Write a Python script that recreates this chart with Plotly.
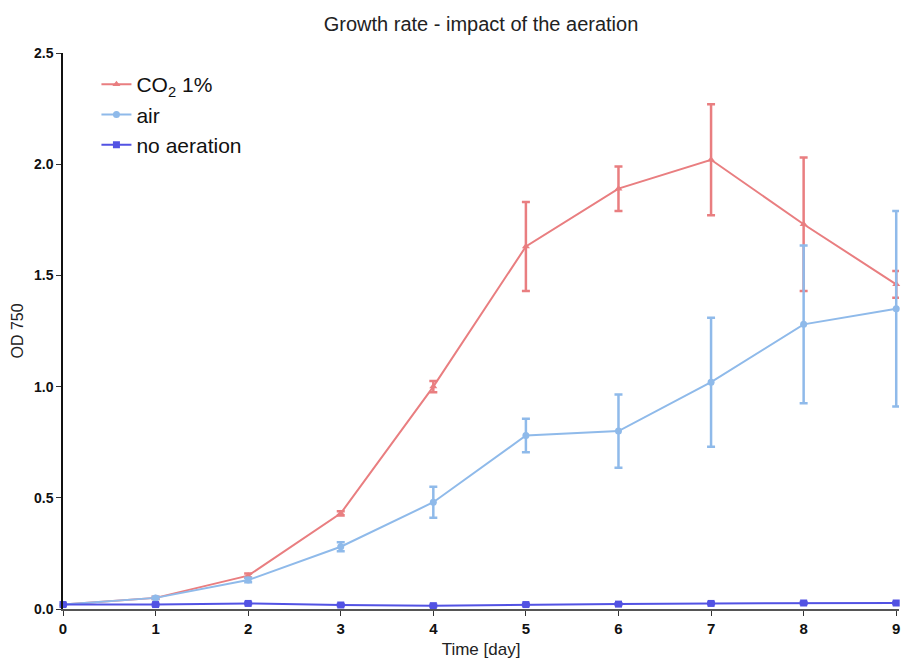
import plotly.graph_objects as go

days = [0, 1, 2, 3, 4, 5, 6, 7, 8, 9]

co2_mean = [0.02, 0.05, 0.15, 0.43, 1.00, 1.63, 1.89, 2.02, 1.73, 1.46]
co2_err = [0.005, 0.005, 0.01, 0.01, 0.025, 0.20, 0.10, 0.25, 0.30, 0.06]

air_mean = [0.02, 0.05, 0.13, 0.28, 0.48, 0.78, 0.80, 1.02, 1.28, 1.35]
air_err = [0.005, 0.005, 0.01, 0.02, 0.07, 0.075, 0.165, 0.29, 0.355, 0.44]

noair_mean = [0.02, 0.02, 0.025, 0.018, 0.015, 0.02, 0.022, 0.025, 0.027, 0.027]
noair_err = [0.004, 0.004, 0.004, 0.004, 0.004, 0.004, 0.004, 0.004, 0.004, 0.004]

series = [
    ("CO<sub>2</sub> 1%", co2_mean, co2_err, "#E97E80", "triangle-up"),
    ("air", air_mean, air_err, "#8FBAEA", "circle"),
    ("no aeration", noair_mean, noair_err, "#5252E3", "square"),
]

fig = go.Figure()
for name, mean, err, color, symbol in series:
    fig.add_trace(go.Scatter(
        x=days, y=mean, name=name, mode="lines+markers",
        line=dict(color=color, width=2),
        marker=dict(color=color, symbol=symbol, size=7),
        error_y=dict(type="data", array=err, visible=True,
                     color=color, thickness=2.5, width=4),
        cliponaxis=False,
    ))

font_family = "Liberation Sans, Arial, sans-serif"

fig.update_layout(
    width=902, height=660,
    margin=dict(l=63, r=3, t=53, b=51),
    paper_bgcolor="white", plot_bgcolor="white",
    title=dict(text="Growth rate - impact of the aeration",
               x=0.5, xref="paper", y=0.964, yref="container",
               xanchor="center", yanchor="middle",
               font=dict(family=font_family, size=20, color="#222")),
    font=dict(family=font_family, color="#111"),
    legend=dict(x=0.04, y=0.98, xanchor="left", yanchor="top",
                font=dict(size=21, color="#111"),
                bgcolor="rgba(0,0,0,0)", itemwidth=30,
                tracegroupgap=0),
    showlegend=True,
)

fig.update_xaxes(
    range=[0, 9.03], tickvals=days, ticktext=[str(d) for d in days],
    showline=True, linecolor="#555", linewidth=1.5,
    ticks="outside", ticklen=5, tickcolor="#333", tickwidth=1,
    showgrid=False, zeroline=False,
    tickfont=dict(family=font_family, size=15, color="#111", weight="bold"),
    title=dict(text="Time [day]", standoff=7,
               font=dict(family=font_family, size=17, color="#222")),
)

fig.update_yaxes(
    range=[0, 2.5], tickvals=[0, 0.5, 1.0, 1.5, 2.0, 2.5],
    ticktext=["0.0", "0.5", "1.0", "1.5", "2.0", "2.5"],
    showline=True, linecolor="#111", linewidth=1.5,
    ticks="outside", ticklen=5, tickcolor="#333", tickwidth=1,
    showgrid=False, zeroline=False,
    tickfont=dict(family=font_family, size=14, color="#111", weight="bold"),
    title=dict(text="OD 750", standoff=6,
               font=dict(family=font_family, size=16, color="#222")),
)

fig.write_html("out.html")
